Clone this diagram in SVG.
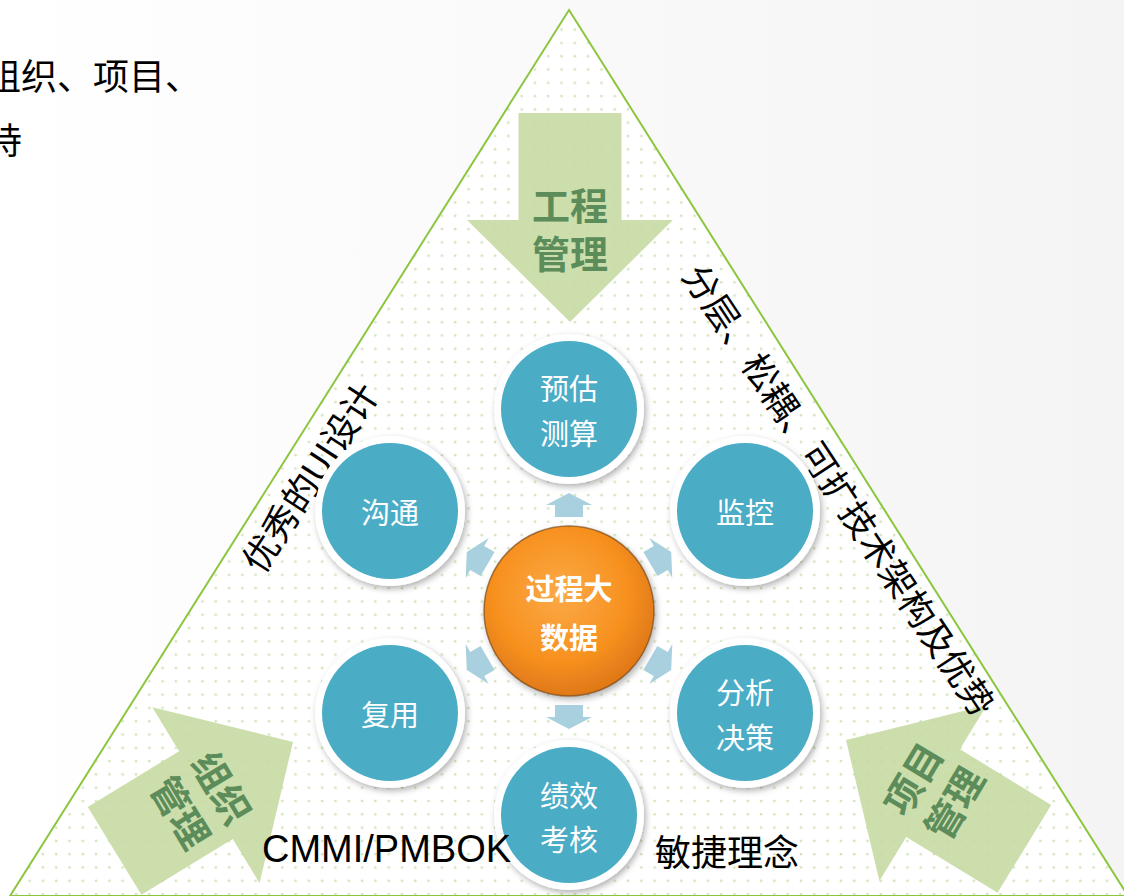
<svg xmlns="http://www.w3.org/2000/svg" width="1124" height="896" viewBox="0 0 1124 896">
<defs>
<style>
.cjk{font-family:"Noto Sans CJK SC","Noto Sans",sans-serif}
.ring{fill:#ffffff;filter:url(#sh)}
.core{fill:#4bacc6}
.ntext{font-family:"Noto Sans CJK SC","Noto Sans",sans-serif;font-size:29px;fill:#ffffff;text-anchor:middle;dominant-baseline:central}
.big{fill:#c4d89f;fill-opacity:0.85}
.bigt{font-family:"Noto Sans CJK SC","Noto Sans",sans-serif;font-size:38px;font-weight:700;fill:#5b8c5a;text-anchor:middle;dominant-baseline:central}
.side{font-family:"Noto Sans CJK SC","Noto Sans",sans-serif;fill:#000000;text-anchor:middle;dominant-baseline:central}
.sa{fill:#a9d0de}
</style>
<linearGradient id="bg" x1="0" y1="0" x2="1" y2="0">
<stop offset="0" stop-color="#ffffff"/>
<stop offset="1" stop-color="#f4f4f4"/>
</linearGradient>
<pattern id="dots" width="13.3" height="13.3" patternUnits="userSpaceOnUse">
<rect width="13.3" height="13.3" fill="#ffffff"/>
<circle cx="3" cy="3" r="1.3" fill="#d5e4bd"/>
</pattern>
<radialGradient id="orange" cx="0.45" cy="0.4" r="0.6">
<stop offset="0" stop-color="#fba947"/>
<stop offset="0.65" stop-color="#f7911f"/>
<stop offset="1" stop-color="#e07818"/>
</radialGradient>
<filter id="sh" x="-20%" y="-20%" width="140%" height="140%">
<feDropShadow dx="2" dy="3" stdDeviation="3" flood-color="#000" flood-opacity="0.3"/>
</filter>
<path id="bigarrow" d="M-51.5,-209 L51.5,-209 L51.5,-102 L103,-102 L0,0 L-103,-102 L-51.5,-102 Z"/>
<path id="smallarrow" d="M0,-12 L23,0 L14,0 L14,12 L-14,12 L-14,0 L-23,0 Z"/>
</defs>

<rect width="1124" height="896" fill="url(#bg)"/>

<g id="corner-text" class="cjk" font-size="36" fill="#000">
<text x="-15" y="74" dominant-baseline="central">组织、项目、</text>
<text x="-14" y="138" dominant-baseline="central">持</text>
</g>

<g id="triangle">
<polygon points="569,10 1128,896 10,896" fill="url(#dots)" stroke="#8cc63f" stroke-width="2"/>
</g>

<g id="engineering-arrow">
<use href="#bigarrow" class="big" transform="translate(570,322)"/>
<text class="bigt" x="570" y="203">工程</text>
<text class="bigt" x="570" y="251">管理</text>
</g>

<g id="org-arrow">
<use href="#bigarrow" class="big" transform="translate(293,742) rotate(-121.4)"/>
<g transform="translate(203,799) rotate(59)">
<text class="bigt" x="0" y="-24">组织</text>
<text class="bigt" x="0" y="24">管理</text>
</g>
</g>

<g id="project-arrow">
<use href="#bigarrow" class="big" transform="translate(846,740) rotate(121.4)"/>
<g transform="translate(932,790) rotate(-59)">
<text class="bigt" x="0" y="-24">项目</text>
<text class="bigt" x="0" y="24">管理</text>
</g>
</g>

<g id="label-ui">
<text class="side" font-size="36" transform="translate(308,476) rotate(-57)">优秀的UI设计</text>
</g>
<g id="label-arch">
<text class="side" font-size="35.5" transform="translate(841,489) rotate(56.5)">分层、松耦、可扩技术架构及优势</text>
</g>

<g id="connectors">
<use href="#smallarrow" class="sa" transform="translate(569,505)"/>
<use href="#smallarrow" class="sa" transform="translate(660.8,558) rotate(60)"/>
<use href="#smallarrow" class="sa" transform="translate(660.8,664) rotate(120)"/>
<use href="#smallarrow" class="sa" transform="translate(569,717) rotate(180)"/>
<use href="#smallarrow" class="sa" transform="translate(477.2,664) rotate(-120)"/>
<use href="#smallarrow" class="sa" transform="translate(477.2,558) rotate(-60)"/>
</g>

<g id="node-estimate">
<circle class="ring" cx="569" cy="409" r="75"/>
<circle class="core" cx="569" cy="409" r="68"/>
<text class="ntext" x="569" y="387">预估</text>
<text class="ntext" x="569" y="432">测算</text>
</g>
<g id="node-monitor">
<circle class="ring" cx="745" cy="511" r="75"/>
<circle class="core" cx="745" cy="511" r="68"/>
<text class="ntext" x="745" y="511">监控</text>
</g>
<g id="node-decision">
<circle class="ring" cx="745" cy="713" r="75"/>
<circle class="core" cx="745" cy="713" r="68"/>
<text class="ntext" x="745" y="691">分析</text>
<text class="ntext" x="745" y="736">决策</text>
</g>
<g id="node-performance">
<circle class="ring" cx="569" cy="815" r="75"/>
<circle class="core" cx="569" cy="815" r="68"/>
<text class="ntext" x="569" y="794">绩效</text>
<text class="ntext" x="569" y="838">考核</text>
</g>
<g id="node-reuse">
<circle class="ring" cx="390" cy="713" r="75"/>
<circle class="core" cx="390" cy="713" r="68"/>
<text class="ntext" x="390" y="713">复用</text>
</g>
<g id="node-communicate">
<circle class="ring" cx="390" cy="511" r="75"/>
<circle class="core" cx="390" cy="511" r="68"/>
<text class="ntext" x="390" y="511">沟通</text>
</g>

<g id="node-center">
<circle cx="569" cy="611" r="85" fill="url(#orange)" stroke="#7a4a1a" stroke-width="1.5" stroke-opacity="0.7" filter="url(#sh)"/>
<text class="ntext" x="569" y="587" font-size="32" font-weight="700">过程大</text>
<text class="ntext" x="569" y="636" font-size="32" font-weight="700">数据</text>
</g>

<g id="bottom-labels">
<text x="262" y="862" font-family="Liberation Sans, Arial, sans-serif" font-size="38" fill="#000">CMMI/PMBOK</text>
<text class="cjk" x="655" y="850" font-size="36" fill="#000" dominant-baseline="central">敏捷理念</text>
</g>
</svg>
